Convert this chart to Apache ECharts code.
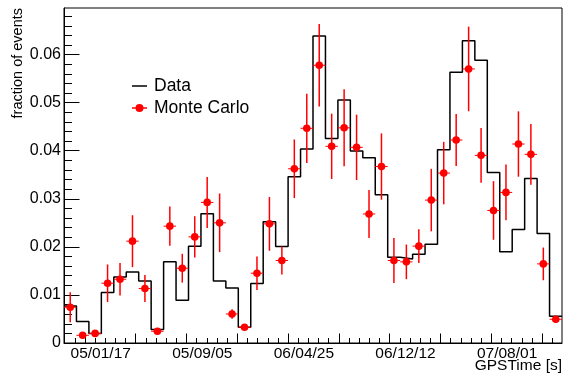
<!DOCTYPE html>
<html>
<head>
<meta charset="utf-8">
<script src="https://cdn.jsdelivr.net/npm/echarts@6/dist/echarts.min.js"></script>
<style>
  html, body { margin: 0; padding: 0; background: #fff; }
  #chart { width: 563px; height: 376px; }
</style>
</head>
<body>
<div id="chart"></div>
<script>
// Histogram of event fractions per time bin (40 equal-width bins)
const binCount = 40;

// Measured data: fraction of events in each bin
const dataFraction = [
  0.00771, 0.00446, 0.00196, 0.0105, 0.01375, 0.01479, 0.01292, 0.00279, 0.01688, 0.0089,
  0.02015, 0.02688, 0.01292, 0.01146, 0.00327, 0.01238, 0.02521, 0.02008, 0.03458, 0.04035,
  0.0639, 0.04254, 0.05056, 0.03994, 0.03854, 0.03083, 0.01785, 0.0175, 0.01848, 0.02056,
  0.04021, 0.05635, 0.0629, 0.05885, 0.0355, 0.01896, 0.02363, 0.03425, 0.02279, 0.00556
];

// Simulation: fraction of events in each bin and its statistical error
const mcFraction = [
  0.00744, 0.0016, 0.0020, 0.01244, 0.01327, 0.02119, 0.01133, 0.00244, 0.02431, 0.01556,
  0.02208, 0.02925, 0.0250, 0.00604, 0.00327, 0.01452, 0.02479, 0.01717, 0.03625, 0.04467,
  0.05779, 0.04092, 0.04477, 0.04071, 0.02685, 0.03671, 0.01717, 0.01688, 0.02015, 0.02973,
  0.03535, 0.04223, 0.05702, 0.03904, 0.02758, 0.03133, 0.0414, 0.03925, 0.01646, 0.00494
];
const mcError = [
  0.0031, 0.0006, 0.0006, 0.0039, 0.0034, 0.0054, 0.0028, 0.0007, 0.0041, 0.0030,
  0.0043, 0.0053, 0.0061, 0.0010, 0.0006, 0.0035, 0.0056, 0.0029, 0.0061, 0.0072,
  0.0086, 0.0068, 0.0080, 0.0068, 0.0050, 0.0069, 0.0047, 0.0036, 0.0035, 0.0065,
  0.0065, 0.0054, 0.0088, 0.0057, 0.0061, 0.0058, 0.0068, 0.0063, 0.0034, 0.0008
];

// Time-axis labels (yy/mm/dd) and where they fall, in bin units
const dateLabels = ['05/01/17', '05/09/05', '06/04/25', '06/12/12', '07/08/01'];
const dateLabelPos = [2.95, 11.11, 19.27, 27.43, 35.59];

// Vertical axis tick labels
const yTickLabels = ['0', '0.01', '0.02', '0.03', '0.04', '0.05', '0.06'];

const FONT = 'Liberation Sans, Arial, Helvetica, sans-serif';
const yMax = 0.0697;

// Tick layout along the time axis (major every 4.08 bins, 5 subdivisions)
const xMajorStart = 1.68, xMajorStep = 4.08;
const xMajor = [], xMinor = [];
for (let v = xMajorStart; v < binCount; v += xMajorStep) xMajor.push(+v.toFixed(3));
for (let v = xMajorStart - 2 * xMajorStep / 5; v < binCount; v += xMajorStep / 5) {
  if (v > 0.01) xMinor.push(+v.toFixed(3));
}
const yMajor = yTickLabels.map(s => parseFloat(s));
const yMinor = [];
for (let k = 1; k <= 34; k++) if (k % 5 !== 0) yMinor.push(+(k * 0.002).toFixed(3));

// Step outline: one point per bin edge, closing at the right edge
const stepPoints = dataFraction.map((v, i) => [i, v]);
stepPoints.push([binCount, dataFraction[binCount - 1]]);

const mcPoints = mcFraction.map((v, i) => [i, v, mcError[i]]);

const chart = echarts.init(document.getElementById('chart'), null, { renderer: 'canvas' });

chart.setOption({
  animation: false,
  backgroundColor: '#fff',
  grid: {
    left: 64, right: 1, top: 8, bottom: 33,
    containLabel: false, outerBoundsMode: 'none',
    show: true, borderColor: '#000', borderWidth: 1, backgroundColor: 'transparent'
  },
  legend: {
    orient: 'vertical',
    left: 127, top: 72,
    itemWidth: 15, itemHeight: 8, itemGap: 4,
    symbolKeepAspect: true,
    textStyle: { fontFamily: FONT, fontSize: 17.5, color: '#000', padding: [0, 0, 0, 2] },
    data: [
      { name: 'Data', icon: 'path://M0,0H15V1.5H0Z' },
      { name: 'Monte Carlo',
        icon: 'path://M0,3.25H15V4.75H0Z M7.5,0A4,4,0,1,1,7.5,8A4,4,0,1,1,7.5,0Z' }
    ]
  },
  xAxis: [
    {
      type: 'value', min: 0, max: binCount,
      name: 'GPSTime [s]', nameLocation: 'end', nameGap: 0, nameMoveOverlap: false,
      nameTextStyle: { fontFamily: FONT, fontSize: 15.5, color: '#000',
        align: 'right', verticalAlign: 'top', padding: [15, 0, 0, 0] },
      axisLine: { show: true, onZero: false, lineStyle: { color: '#000', width: 1 } },
      axisTick: { show: true, inside: true, length: 9.5, customValues: xMajor,
        lineStyle: { color: '#000', width: 1 } },
      axisLabel: { show: true, customValues: dateLabelPos, margin: 3,
        fontFamily: FONT, fontSize: 15.5, color: '#000',
        formatter: v => {
          const k = dateLabelPos.findIndex(p => Math.abs(p - v) < 1e-6);
          return k >= 0 ? dateLabels[k] : '';
        } },
      splitLine: { show: false }
    },
    {
      type: 'value', min: 0, max: binCount, position: 'bottom',
      axisLine: { show: false },
      axisTick: { show: true, inside: true, length: 5, customValues: xMinor,
        lineStyle: { color: '#000', width: 1 } },
      axisLabel: { show: false },
      splitLine: { show: false }
    }
  ],
  yAxis: [
    {
      type: 'value', min: 0, max: yMax,
      name: 'fraction of events', nameLocation: 'end', nameRotate: 90, nameGap: 0,
      nameMoveOverlap: false,
      nameTextStyle: { fontFamily: FONT, fontSize: 14.5, color: '#000',
        align: 'right', verticalAlign: 'bottom', padding: [0, 0, 39, 0] },
      axisLine: { show: true, onZero: false, lineStyle: { color: '#000', width: 1 } },
      axisTick: { show: true, inside: true, length: 15.5, customValues: yMajor,
        lineStyle: { color: '#000', width: 1 } },
      axisLabel: { show: true, customValues: yMajor, margin: 3,
        fontFamily: FONT, fontSize: 16, color: '#000',
        formatter: v => {
          const k = yMajor.findIndex(p => Math.abs(p - v) < 1e-9);
          return k >= 0 ? yTickLabels[k] : '';
        } },
      splitLine: { show: false }
    },
    {
      type: 'value', min: 0, max: yMax, position: 'left',
      axisLine: { show: false },
      axisTick: { show: true, inside: true, length: 8, customValues: yMinor,
        lineStyle: { color: '#000', width: 1 } },
      axisLabel: { show: false },
      splitLine: { show: false }
    }
  ],
  series: [
    {
      name: 'Data',
      type: 'line',
      step: 'end',
      xAxisIndex: 0, yAxisIndex: 0,
      data: stepPoints,
      symbol: 'none',
      color: '#000',
      lineStyle: { color: '#000', width: 1.5 },
      z: 2
    },
    {
      name: 'Monte Carlo',
      type: 'custom',
      xAxisIndex: 0, yAxisIndex: 0,
      color: '#ff0000',
      data: mcPoints,
      encode: { x: 0, y: 1 },
      z: 3,
      renderItem: (params, api) => {
        const i = api.value(0), v = api.value(1), e = api.value(2);
        const c = api.coord([i + 0.5, v]);
        const lo = api.coord([i + 0.5, v - e]);
        const hi = api.coord([i + 0.5, v + e]);
        const l = api.coord([i, v]);
        const r = api.coord([i + 1, v]);
        return {
          type: 'group',
          children: [
            { type: 'line', shape: { x1: c[0], y1: lo[1], x2: c[0], y2: hi[1] },
              style: { stroke: '#ff0000', lineWidth: 1.5 } },
            { type: 'line', shape: { x1: l[0], y1: c[1], x2: r[0], y2: c[1] },
              style: { stroke: '#ff0000', lineWidth: 1 } },
            { type: 'circle', shape: { cx: c[0], cy: c[1], r: 3.8 },
              style: { fill: '#ff0000' } }
          ]
        };
      }
    }
  ]
});
</script>
</body>
</html>
